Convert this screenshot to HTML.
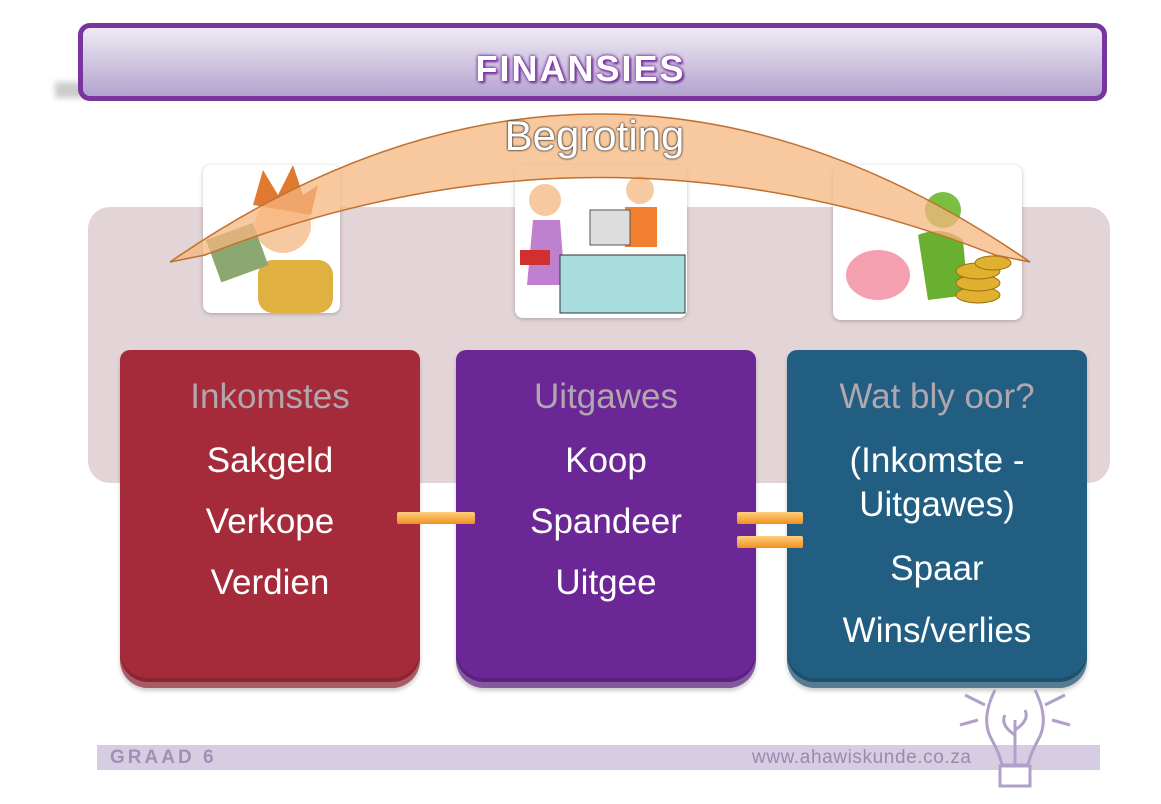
<!DOCTYPE html>
<html><head><meta charset="utf-8"><style>
body{margin:0;width:1161px;height:804px;background:#fff;position:relative;overflow:hidden;font-family:"Liberation Sans Narrow","Liberation Sans",sans-serif}
.abs{position:absolute}
.card{position:absolute;top:350px;width:300px;height:338px;border-radius:10px 10px 28px 28px;box-shadow:inset 0 -6px 0 rgba(255,255,255,.25),inset 0 -10px 0 rgba(0,0,0,.15),0 3px 4px rgba(0,0,0,.2);text-align:center;color:#fff;font-size:35px}
.card .h{color:#b0a8ae;margin-top:23px;height:48px;line-height:48px;margin-bottom:9px}
.card div{height:61px;line-height:61px}
.img{position:absolute;background:#fff;border-radius:8px;box-shadow:0 1px 4px rgba(0,0,0,.25)}
</style></head><body>
<div class="abs" style="left:55px;top:82px;width:40px;height:16px;background:#ccc;filter:blur(3px)"></div>
<div class="abs" style="left:78px;top:23px;width:1019px;height:68px;border:5px solid #7a34a0;border-radius:12px;background:linear-gradient(#eeeaf3,#b3a3cf)"></div>
<div class="abs" style="left:0;width:1161px;top:48px;text-align:center;font:bold 36px 'Liberation Sans Narrow','Liberation Sans',sans-serif;color:#fff;letter-spacing:2px;text-shadow:0 0 3px #7a34a0,0 0 3px #7a34a0,2px 2px 2px #7a34a0">FINANSIES</div>
<div class="abs" style="left:88px;top:207px;width:1022px;height:276px;background:#e3d5d7;border-radius:22px"></div>
<div class="img" style="left:203px;top:165px;width:137px;height:148px">
<svg width="137" height="148"><circle cx="80" cy="60" r="28" fill="#f7c9a0"/><path d="M50,40 L60,5 L75,30 L90,0 L100,30 L115,20 L108,50Z" fill="#e07a30"/><rect x="55" y="95" width="75" height="53" rx="15" fill="#e0b040"/><rect x="10" y="65" width="50" height="45" fill="#8aa870" transform="rotate(-20 35 90)"/></svg></div>
<div class="img" style="left:515px;top:165px;width:172px;height:153px">
<svg width="172" height="153"><circle cx="30" cy="35" r="16" fill="#f7c9a0"/><circle cx="125" cy="25" r="14" fill="#f7c9a0"/><path d="M18,55 L45,55 L50,120 L12,120Z" fill="#c080d0"/><rect x="110" y="42" width="32" height="40" fill="#f08030"/><rect x="45" y="90" width="125" height="58" fill="#a8dde0" stroke="#333"/><rect x="75" y="45" width="40" height="35" fill="#ddd" stroke="#555"/><rect x="5" y="85" width="30" height="15" fill="#d03030"/></svg></div>
<div class="img" style="left:833px;top:165px;width:189px;height:155px">
<svg width="189" height="155"><circle cx="110" cy="45" r="18" fill="#7ac040"/><path d="M85,70 Q110,60 130,75 L135,130 L95,135Z" fill="#6ab030"/><ellipse cx="45" cy="110" rx="32" ry="25" fill="#f4a0b0"/><g fill="#e0b030" stroke="#a07010"><ellipse cx="145" cy="130" rx="22" ry="8"/><ellipse cx="145" cy="118" rx="22" ry="8"/><ellipse cx="145" cy="106" rx="22" ry="8"/><ellipse cx="160" cy="98" rx="18" ry="7"/></g></svg></div>
<svg class="abs" style="left:0;top:0" width="1161" height="804">
<path d="M170,262 Q600,-34 1030,262 L995,255 Q600,100 205,255 Z" fill="#f5b57e" fill-opacity=".75" stroke="#c07030" stroke-width="1.5"/>
</svg>
<div class="abs" style="left:0;width:1161px;top:112px;text-align:center;font-size:42px;color:#fff;text-shadow:0 0 2px #333,0 0 2px #333;padding-left:28px;box-sizing:border-box">Begroting</div>
<div class="card" style="left:120px;background:#a52b3b"><div class="h">Inkomstes</div><div>Sakgeld</div><div>Verkope</div><div>Verdien</div></div>
<div class="card" style="left:456px;background:#6c2796"><div class="h">Uitgawes</div><div>Koop</div><div>Spandeer</div><div>Uitgee</div></div>
<div class="card" style="left:787px;background:#215e82"><div class="h">Wat bly oor?</div><div style="height:44px;line-height:44px;margin-top:18px">(Inkomste -</div><div style="height:44px;line-height:44px">Uitgawes)</div><div style="height:63px;line-height:63px;margin-top:10px">Spaar</div><div>Wins/verlies</div></div>
<div class="abs" style="left:397px;top:512px;width:78px;height:12px;background:linear-gradient(#ffd080,#f09020);border-radius:2px"></div>
<div class="abs" style="left:737px;top:512px;width:66px;height:12px;background:linear-gradient(#ffd080,#f09020);border-radius:2px"></div>
<div class="abs" style="left:737px;top:536px;width:66px;height:12px;background:linear-gradient(#ffd080,#f09020);border-radius:2px"></div>
<div class="abs" style="left:97px;top:745px;width:1003px;height:25px;background:#d6cde3"></div>
<div class="abs" style="left:110px;top:747px;font:bold 19px 'Liberation Sans',sans-serif;color:#a090b8;letter-spacing:3px">GRAAD 6</div>
<div class="abs" style="left:752px;top:747px;font:19px 'Liberation Sans',sans-serif;color:#9a8ab0;letter-spacing:0.6px">www.ahawiskunde.co.za</div>
<svg class="abs" style="left:940px;top:680px" width="160" height="124"><g fill="none" stroke="#b0a0c8" stroke-width="3"><path d="M55,10 Q40,40 52,60 Q60,75 62,85 L88,85 Q90,75 98,60 Q110,40 95,10"/><rect x="60" y="86" width="30" height="20" fill="#fff"/><path d="M75,85 L75,40 M75,55 Q60,45 65,35 M75,50 Q90,40 85,30"/><path d="M20,45 L38,40 M130,45 L112,40 M25,15 L45,25 M125,15 L105,25"/></g></svg>
</body></html>
